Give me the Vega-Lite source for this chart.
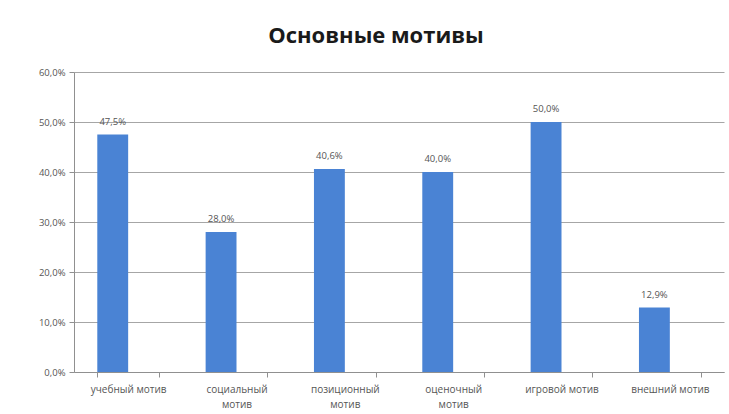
{
  "$schema": "https://vega.github.io/schema/vega-lite/v6.json",
  "width": 650,
  "height": 300,
  "autosize": {"type": "none"},
  "padding": {"left": 74, "top": 72, "right": 5, "bottom": 42},
  "background": "white",
  "config": {
    "locale": {"number": {"decimal": ",", "thousands": " ", "grouping": [3], "currency": ["", " ₽"]}},
    "font": "Open Sans",
    "view": {"stroke": null}
  },
  "title": {
    "text": "Основные мотивы",
    "fontSize": 22,
    "fontWeight": "bold",
    "font": "Open Sans",
    "color": "#1a1a1a",
    "anchor": "middle",
    "dx": -23,
    "offset": 19
  },
  "data": {
    "values": [
      {"motive": "учебный мотив", "series": "ряд1", "share": 0.475},
      {"motive": "социальный мотив", "series": "ряд1", "share": 0.28},
      {"motive": "позиционный мотив", "series": "ряд1", "share": 0.406},
      {"motive": "оценочный мотив", "series": "ряд1", "share": 0.40},
      {"motive": "игровой мотив", "series": "ряд1", "share": 0.50},
      {"motive": "внешний мотив", "series": "ряд1", "share": 0.129}
    ]
  },
  "encoding": {
    "x": {
      "field": "motive",
      "type": "nominal",
      "sort": null,
      "scale": {"paddingInner": 0.43, "paddingOuter": 0.215},
      "axis": {
        "title": null,
        "labelAngle": 0,
        "labelFontSize": 10,
        "labelColor": "#555555",
        "labelLineHeight": 15,
        "labelExpr": "datum.label == 'социальный мотив' || datum.label == 'позиционный мотив' || datum.label == 'оценочный мотив' ? split(datum.label, ' ') : datum.label",
        "tickBand": "extent",
        "tickSize": 5,
        "tickColor": "#909090",
        "domainColor": "#909090",
        "labelPadding": 7,
        "grid": false
      }
    },
    "xOffset": {"field": "series", "type": "nominal", "scale": {"domain": ["ряд1", "ряд2"], "paddingInner": 0, "paddingOuter": 0}},
    "y": {
      "field": "share",
      "type": "quantitative",
      "scale": {"domain": [0, 0.6], "nice": false},
      "axis": {
        "title": null,
        "format": ".1%",
        "values": [0, 0.1, 0.2, 0.3, 0.4, 0.5, 0.6],
        "labelFontSize": 9.5,
        "labelColor": "#555555",
        "gridColor": "#a6a6a6",
        "domainColor": "#909090",
        "tickColor": "#909090",
        "tickSize": 5,
        "labelPadding": 4
      }
    }
  },
  "layer": [
    {"mark": {"type": "bar", "color": "#4a83d4"}},
    {
      "mark": {"type": "text", "dy": -8, "fontSize": 9.5, "color": "#555555", "baseline": "bottom"},
      "encoding": {"text": {"field": "share", "type": "quantitative", "format": ".1%"}}
    }
  ]
}
